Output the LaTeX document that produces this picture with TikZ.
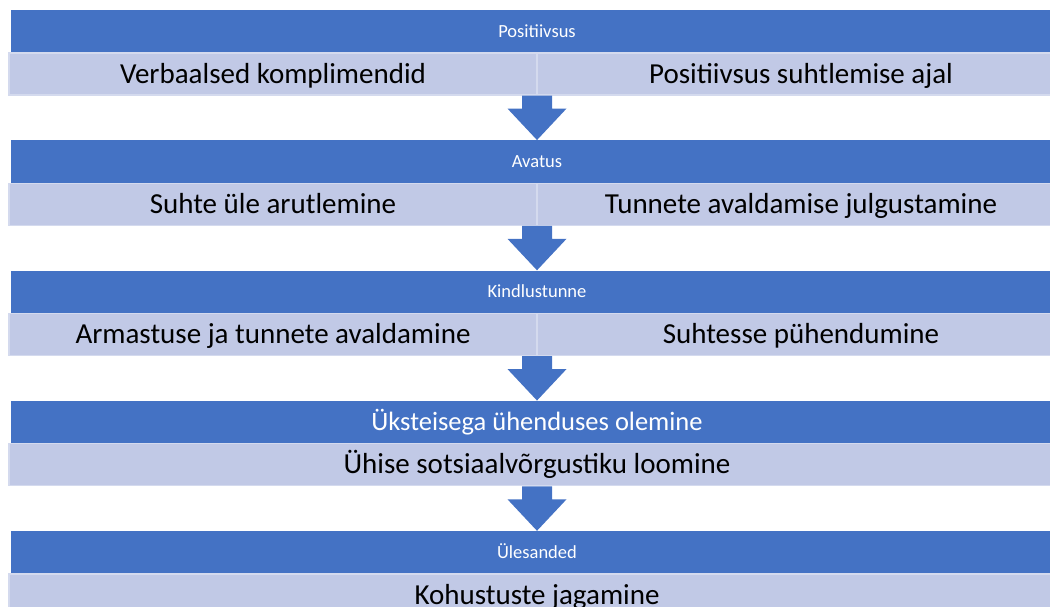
\documentclass[tikz,border=0pt]{standalone}
\usepackage{fontspec}
\setmainfont{Carlito}
\usetikzlibrary{calc}
\definecolor{barblue}{RGB}{68,114,196}
\definecolor{barlight}{RGB}{193,201,230}
\definecolor{baredge}{RGB}{212,218,238}

\begin{document}
\begin{tikzpicture}[x=1pt, y=-1pt,
    head/.style={fill=barblue, minimum width=1052pt, minimum height=43pt, inner sep=0pt,
        text=white, text height=11.7pt, text depth=0pt, font=\fontsize{18.5}{20}\selectfont},
    bighead/.style={head, text height=16.8pt, font=\fontsize{26.5}{30}\selectfont},
    part/.style={fill=barlight, draw=baredge, line width=1.2pt, minimum height=42pt, inner sep=0pt,
        text height=18.3pt, text depth=0pt, font=\fontsize{29}{32}\selectfont},
    half/.style={part, minimum width=528pt},
    full/.style={part, minimum width=1056pt},
    flow/.style={fill=barblue}
]
\useasboundingbox (0,0) rectangle (1050,607);
\clip (0,0) rectangle (1050,607);

% Positiivsus
\node[head] (h1) at (537,31.5) {Positiivsus};
\node[half] (l1) at (273,74) {Verbaalsed komplimendid};
\node[half] (r1) at (801,74) {Positiivsus suhtlemise ajal};

% Avatus
\node[head] (h2) at (537,161.75) {Avatus};
\node[half] (l2) at (273,204.25) {Suhte üle arutlemine};
\node[half] (r2) at (801,204.25) {Tunnete avaldamise julgustamine};

% Kindlustunne
\node[head] (h3) at (537,292) {Kindlustunne};
\node[half] (l3) at (273,334.5) {Armastuse ja tunnete avaldamine};
\node[half] (r3) at (801,334.5) {Suhtesse pühendumine};

% Ühendus
\node[bighead] (h4) at (537,422.25) {Üksteisega ühenduses olemine};
\node[full] (s4) at (537,464.75) {Ühise sotsiaalvõrgustiku loomine};

% Ülesanded
\node[head] (h5) at (537,552.5) {Ülesanded};
\node[full] (s5) at (537,595) {Kohustuste jagamine};

% Block arrows between the steps
\foreach \a/\b in {l1/h2, l2/h3, l3/h4, s4/h5} {
  \coordinate (t) at (\a.south -| \b.north);
  \fill[flow] ($(t)+(-15,0)$) -- ($(t)+(15,0)$) -- ($(t)+(15,13)$) -- ($(t)+(29.5,13)$)
    -- (\b.north) -- ($(t)+(-29.5,13)$) -- ($(t)+(-15,13)$) -- cycle;
}

\end{tikzpicture}
\end{document}
